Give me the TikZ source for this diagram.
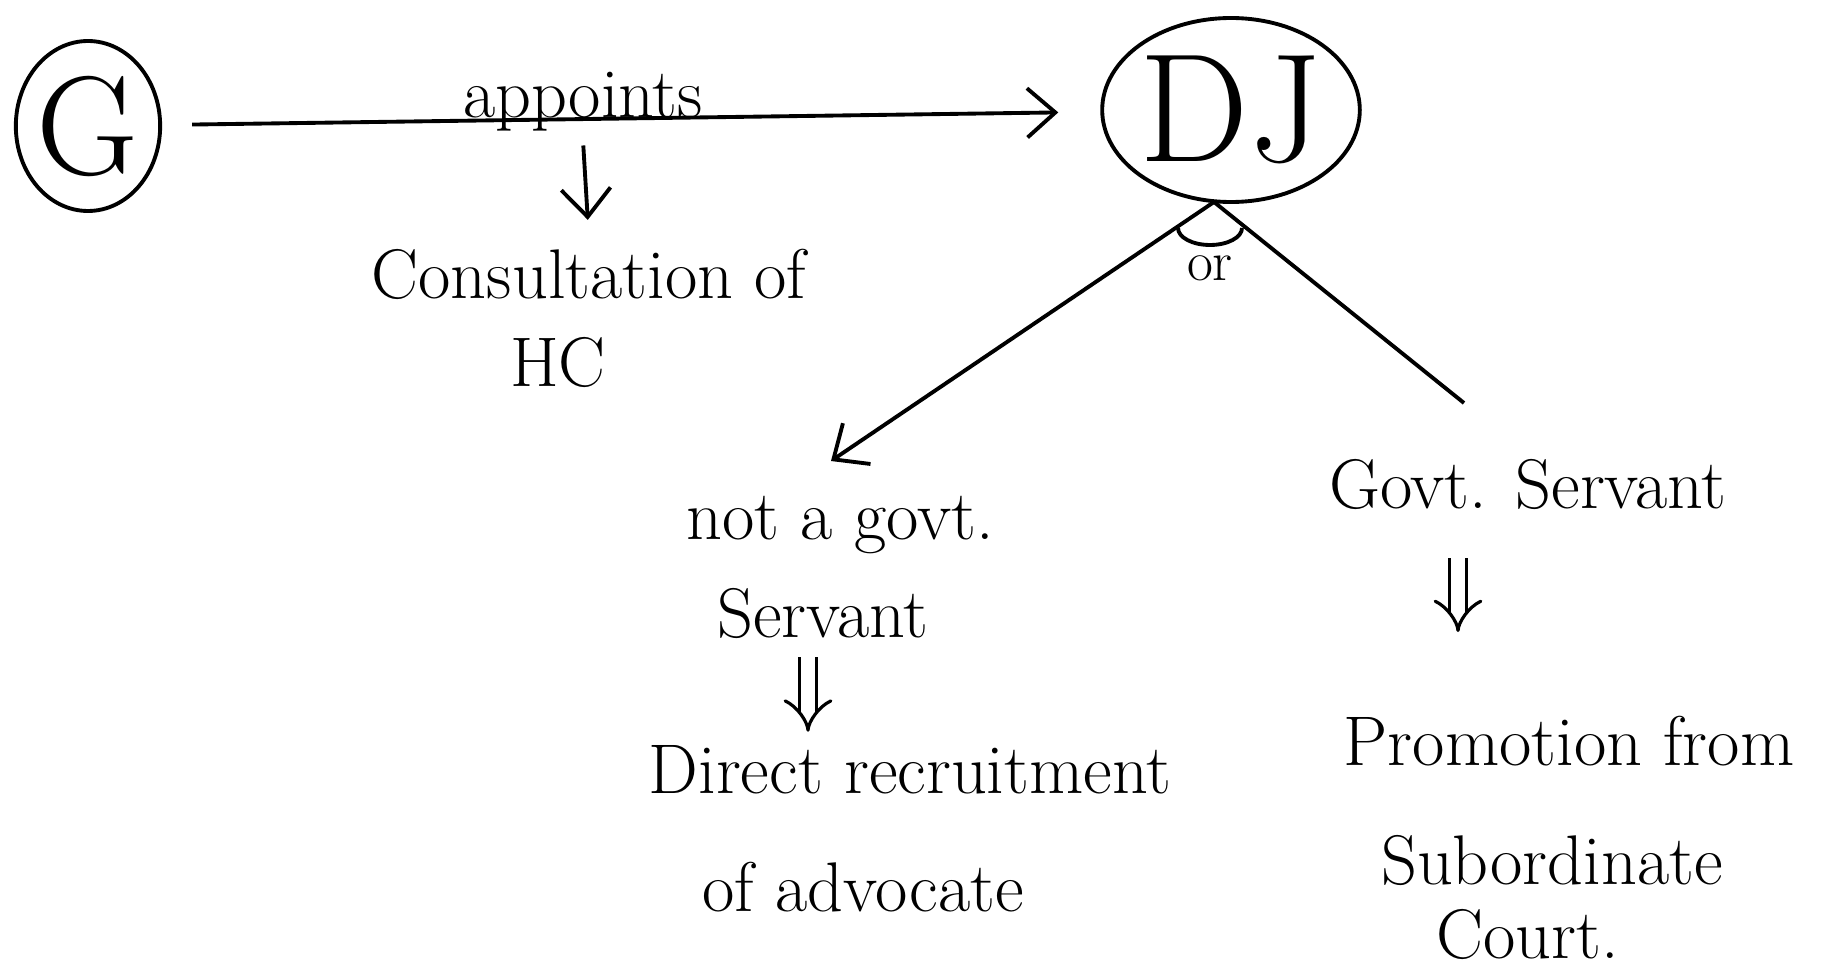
\documentclass[tikz,border=0pt]{standalone}
\usetikzlibrary{arrows.meta, shapes.geometric}
\begin{document}
\begin{tikzpicture}[x=1cm, y=1cm, line width=1.1pt,
  hand/.style={font=\fontsize{20}{24}\selectfont, inner sep=2pt},
  barb/.style={-{Straight Barb[length=8pt, width=14pt]}},
  dblarrow/.style={double, double distance=4pt, line width=0.9pt,
    -{Implies[length=6pt]}}]
  \useasboundingbox (0,0) rectangle (18.3,-9.76);
  % top row: G appoints DJ
  \node[draw, ellipse, minimum width=1.40cm, minimum height=1.70cm,
    font=\fontsize{40}{44}\selectfont, inner sep=0pt] (G) at (0.88,-1.26) {G};
  \node[draw, ellipse, minimum width=2.56cm, minimum height=1.84cm,
    font=\fontsize{44}{48}\selectfont, inner sep=0pt] (DJ) at (12.31,-1.10) {DJ};
  \draw[barb, shorten <=0.3cm, shorten >=0.42cm] (G) -- (DJ);
  \node[hand] (appoints) at (5.83,-1.02) {appoints};
  \node[hand] (consult) at (5.89,-2.74) {Consultation of};
  \node[hand] (hc) at (5.58,-3.62) {HC};
  \draw[barb, shorten <=0.05cm, shorten >=0.2cm] (appoints.south) -- (consult.north);
  % the two ways of appointment
  \coordinate (split) at (12.14,-2.02);
  \coordinate (lend) at (8.31,-4.61);
  \coordinate (rend) at (14.64,-4.03);
  \draw[barb] (split) -- (lend);
  \draw (split) -- (rend);
  \draw ([shift={(-0.36,-0.26)}]split) arc[start angle=180, end angle=360,
    x radius=0.32, y radius=0.17];
  \node[font=\fontsize{16}{18}\selectfont] (or) at (12.10,-2.68) {or};
  % left branch
  \node[hand] (ngs) at (8.40,-5.25) {not a govt.};
  \node[hand] (ngs2) at (8.23,-6.13) {Servant};
  \node[hand] (direct) at (9.10,-7.70) {Direct recruitment};
  \node[hand] (advocate) at (8.63,-8.87) {of advocate};
  \draw[dblarrow, shorten <=0.1cm, shorten >=0.05cm]
    ([xshift=-0.15cm]ngs2.south) -- ([xshift=-0.15cm]ngs2.south |- direct.north);
  % right branch
  \node[hand] (gs) at (15.28,-4.84) {Govt. Servant};
  \node[hand] (promo) at (15.69,-7.41) {Promotion from};
  \node[hand] (subord) at (15.52,-8.60) {Subordinate};
  \node[hand] (court) at (15.28,-9.34) {Court.};
  \draw[dblarrow, shorten <=0.4cm, shorten >=0.75cm]
    ([xshift=-0.7cm]gs.south) -- ([xshift=-0.7cm]gs.south |- promo.north);
\end{tikzpicture}
\end{document}
